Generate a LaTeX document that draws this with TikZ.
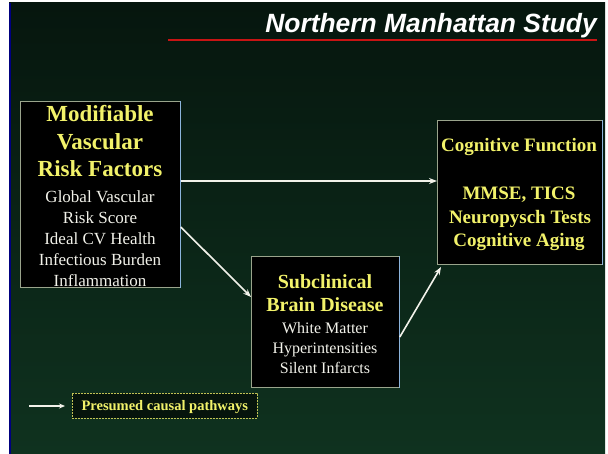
\documentclass[tikz,border=0pt]{standalone}
\usepackage{fontspec}
\setmainfont{Liberation Serif}
\newfontfamily\titlefont{Liberation Sans}
\usetikzlibrary{arrows.meta}
\definecolor{bgtop}{HTML}{06160E}
\definecolor{bgbot}{HTML}{0F321F}
\definecolor{ylw}{HTML}{F2F26A}
\definecolor{wht}{HTML}{F2F2EA}
\definecolor{edge}{HTML}{9AA48C}
\definecolor{edgeblue}{HTML}{8CB4DC}
\definecolor{redline}{HTML}{C81414}
\tikzset{
  boxnode/.style={draw=edge, line width=0.8pt, fill=black, anchor=north west, inner sep=0pt},
  ytext/.style={text=ylw, inner sep=0pt, text height=0.66em, text depth=0pt, anchor=center, yshift=-3pt},
  wtext/.style={text=wht, inner sep=0pt, text height=0.66em, text depth=0pt, anchor=center, yshift=-3pt},
  arr/.style={draw=wht, line width=1.6pt, -{Stealth[length=8pt,width=6pt]}},
}
\begin{document}
\begin{tikzpicture}[x=1pt,y=-1pt]
\useasboundingbox (0,0) rectangle (608,454);
\fill[white] (0,0) rectangle (608,454);
\shade[top color=bgtop, bottom color=bgbot] (9,3) rectangle (605,454);
\draw[color=blue!50!black, line width=1.2pt] (10,3) -- (10,454);
% title
\node[anchor=base east, inner sep=0pt, text=white, font=\titlefont\bfseries\itshape\fontsize{26.4}{30}\selectfont] (title) at (597,33) {Northern Manhattan Study};
\draw[redline, line width=2.2pt] (168,40) -- (597,40);
% box 1
\node[boxnode, minimum width=160pt, minimum height=186pt] (b1) at (20,101) {};
\draw[edgeblue, line width=1pt] (b1.north east) -- (b1.south east);
\begin{scope}[font=\bfseries\fontsize{23}{27}\selectfont]
\node[ytext] (t1a) at (100,115) {Modifiable};
\node[ytext] (t1b) at (100,143) {Vascular};
\node[ytext] (t1c) at (100,170) {Risk Factors};
\end{scope}
\begin{scope}[font=\fontsize{17}{20}\selectfont]
\node[wtext] (t1d) at (100,196) {Global Vascular};
\node[wtext] (t1e) at (100,217) {Risk Score};
\node[wtext] (t1f) at (100,238) {Ideal CV Health};
\node[wtext] (t1g) at (100,259) {Infectious Burden};
\node[wtext] (t1h) at (100,280) {Inflammation};
\end{scope}
% box 2
\node[boxnode, minimum width=148pt, minimum height=131pt] (b2) at (251,256) {};
\draw[edgeblue, line width=1pt] (b2.north east) -- (b2.south east);
\begin{scope}[font=\bfseries\fontsize{20}{24}\selectfont]
\node[ytext] (t2a) at (325,282) {Subclinical};
\node[ytext] (t2b) at (325,305) {Brain Disease};
\end{scope}
\begin{scope}[font=\fontsize{16}{19}\selectfont]
\node[wtext] (t2c) at (325,327) {White Matter};
\node[wtext] (t2d) at (325,347) {Hyperintensities};
\node[wtext] (t2e) at (325,367) {Silent Infarcts};
\end{scope}
% box 3
\node[boxnode, minimum width=165pt, minimum height=144pt] (b3) at (437,120) {};
\draw[edgeblue, line width=1pt] (b3.north east) -- (b3.south east);
\begin{scope}[font=\bfseries\fontsize{19}{23}\selectfont]
\node[ytext] (t3a) at (519,145) {Cognitive Function};
\node[ytext] (t3b) at (519,193) {MMSE, TICS};
\node[ytext, font=\bfseries\fontsize{19}{22}\selectfont] (t3c) at (520,217) {Neuropysch Tests};
\node[ytext] (t3d) at (519,240) {Cognitive Aging};
\end{scope}
% arrows
\coordinate (a1s) at (b1.east |- 0,181);
\coordinate (a1e) at (b3.west |- 0,181);
\draw[arr] (a1s) -- (a1e);
\coordinate (a2s) at (b1.east |- 0,227);
\coordinate (a2e) at (b2.west |- 0,297);
\draw[arr] (a2s) -- (a2e);
\coordinate (a3s) at (b2.east |- 0,337);
\coordinate (a3e) at (441,267);
\draw[arr] (a3s) -- (a3e);
% legend
\node[draw=ylw!80!black, dashed, dash pattern=on 2pt off 1pt, line width=0.6pt, fill=black!60!bgbot, minimum width=185pt, minimum height=25pt, inner sep=0pt, anchor=north west] (leg) at (72,393) {};
\node[ytext, yshift=2pt, font=\bfseries\fontsize{14.5}{17}\selectfont] (legt) at (leg.center) {Presumed causal pathways};
\coordinate (l0) at (29,406);
\coordinate (l1) at (65,406);
\draw[arr, line width=1.4pt, -{Stealth[length=6pt,width=5pt]}] (l0) -- (l1);
\end{tikzpicture}
\end{document}
